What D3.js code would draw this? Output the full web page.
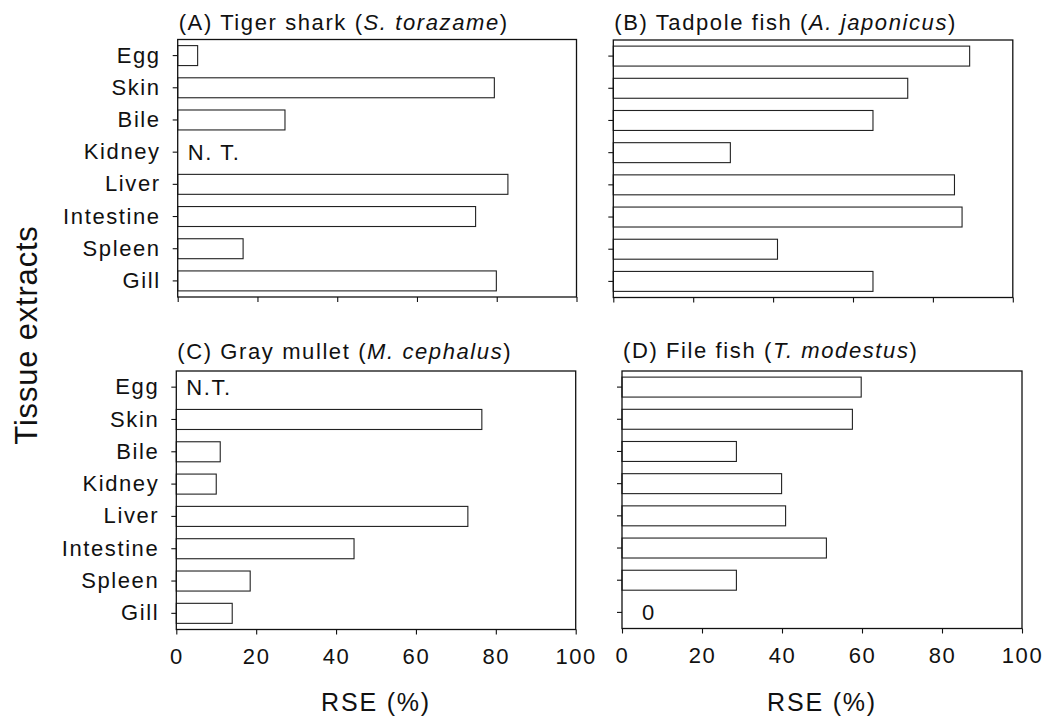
<!DOCTYPE html>
<html><head><meta charset="utf-8">
<script src="https://cdn.jsdelivr.net/npm/d3@7"></script>
<style>
body{margin:0;background:#fff}
svg{display:block}
text{font-family:"Liberation Sans",Arial,Helvetica,sans-serif;fill:#111}
</style>
</head><body>
<svg id="chart" width="1050" height="718"></svg>
<script>
// ---- data ----
const categories = ["Egg","Skin","Bile","Kidney","Liver","Intestine","Spleen","Gill"];
const xTickValues = [0,20,40,60,80,100];
const tigerShark  = [5.0, 79.4, 26.9, null, 82.8, 74.7, 16.4, 79.9];
const tadpoleFish = [89.2, 73.7, 65.0, 29.3, 85.4, 87.3, 41.1, 65.0];
const grayMullet  = [null, 76.5, 11.0, 10.0, 73.0, 44.5, 18.5, 14.0];
const fileFish    = [59.8, 57.6, 28.6, 39.9, 40.9, 51.1, 28.6, 0];
const titleA = ["(A) Tiger shark (", "S. torazame", ")"];
const titleB = ["(B) Tadpole fish (", "A. japonicus", ")"];
const titleC = ["(C) Gray mullet (", "M. cephalus", ")"];
const titleD = ["(D) File fish (", "T. modestus", ")"];
const noteA = {cat:"Kidney", text:"N. T."};
const noteC = {cat:"Egg", text:"N.T."};
const noteD = {cat:"Gill", text:"0"};
const yAxisTitle = "Tissue extracts";
const xAxisTitle = "RSE (%)";

// ---- layout ----
const panels = [
  {vals:tigerShark,  title:titleA, note:noteA, noteDx:10, x0:177.7, x1:576.5, y0:39.5, y1:297, yLabels:true,  xLabels:false, titleY:30},
  {vals:tadpoleFish, title:titleB, note:null,  noteDx:0,  x0:613.3, x1:1012.8, y0:40,  y1:297.5, yLabels:false, xLabels:false, titleY:30},
  {vals:grayMullet,  title:titleC, note:noteC, noteDx:10, x0:176.3, x1:575.7, y0:371, y1:629.5, yLabels:true,  xLabels:true,  titleY:359},
  {vals:fileFish,    title:titleD, note:noteD, noteDx:20, x0:622,   x1:1022,  y0:371, y1:628.5, yLabels:false, xLabels:true,  titleY:358}
];

const svg = d3.select("#chart");
const LS = "1.6px";

panels.forEach(p => {
  const x = d3.scaleLinear().domain([0,100]).range([p.x0, p.x1]);
  const y = d3.scaleBand().domain(categories).range([p.y0, p.y1]).paddingInner(0.38).paddingOuter(0.19);
  const g = svg.append("g");

  // bars
  const data = categories.map((c,i) => ({cat:c, v:p.vals[i]})).filter(d => d.v !== null && d.v > 0);
  g.selectAll("rect.bar").data(data).join("rect")
    .attr("class","bar")
    .attr("x", x(0))
    .attr("y", d => y(d.cat))
    .attr("width", d => x(d.v) - x(0))
    .attr("height", y.bandwidth())
    .attr("fill","#fff")
    .attr("stroke","#222")
    .attr("stroke-width",1.1);

  // frame
  g.append("rect")
    .attr("x", p.x0).attr("y", p.y0)
    .attr("width", p.x1 - p.x0).attr("height", p.y1 - p.y0)
    .attr("fill","none").attr("stroke","#111").attr("stroke-width",1.3);

  // y axis
  const ya = g.append("g").attr("transform", `translate(${p.x0},0)`)
    .call(d3.axisLeft(y).tickSize(5).tickPadding(12).tickFormat(p.yLabels ? (d=>d) : (()=> "")));
  ya.select(".domain").remove();
  ya.selectAll("line").attr("stroke","#111").attr("stroke-width",1.1);
  ya.selectAll("text").attr("font-size","22px").attr("letter-spacing",LS)
    .attr("font-family",'"Liberation Sans",Arial,sans-serif').attr("fill","#111");

  // x axis
  const xa = g.append("g").attr("transform", `translate(0,${p.y1})`)
    .call(d3.axisBottom(x).tickValues(xTickValues).tickSize(5).tickPadding(14)
      .tickFormat(p.xLabels ? d3.format("d") : (()=> "")));
  xa.select(".domain").remove();
  xa.selectAll("line").attr("stroke","#111").attr("stroke-width",1.1);
  xa.selectAll("text").attr("font-size","22px").attr("letter-spacing",LS)
    .attr("font-family",'"Liberation Sans",Arial,sans-serif').attr("fill","#111");

  // panel title
  const t = g.append("text").attr("x", p.x0 + 1).attr("y", p.titleY)
    .attr("font-size","22px").attr("letter-spacing",LS);
  t.append("tspan").text(p.title[0]);
  t.append("tspan").attr("font-style","italic").text(p.title[1]);
  t.append("tspan").text(p.title[2]);

  // note
  if (p.note) {
    g.append("text")
      .attr("x", x(0) + p.noteDx)
      .attr("y", y(p.note.cat) + y.bandwidth()/2)
      .attr("dy","0.36em")
      .attr("font-size","22px").attr("letter-spacing",LS)
      .text(p.note.text);
  }

  // x axis title
  if (p.xLabels) {
    g.append("text").attr("x", (p.x0 + p.x1)/2).attr("y", 711)
      .attr("text-anchor","middle").attr("font-size","25px").attr("letter-spacing","1.8px")
      .text(xAxisTitle);
  }
});

// y axis title
svg.append("text")
  .attr("transform","translate(37,335) rotate(-90)")
  .attr("text-anchor","middle")
  .attr("font-size","31px").attr("letter-spacing","0.8px")
  .text(yAxisTitle);
</script>
</body></html>
